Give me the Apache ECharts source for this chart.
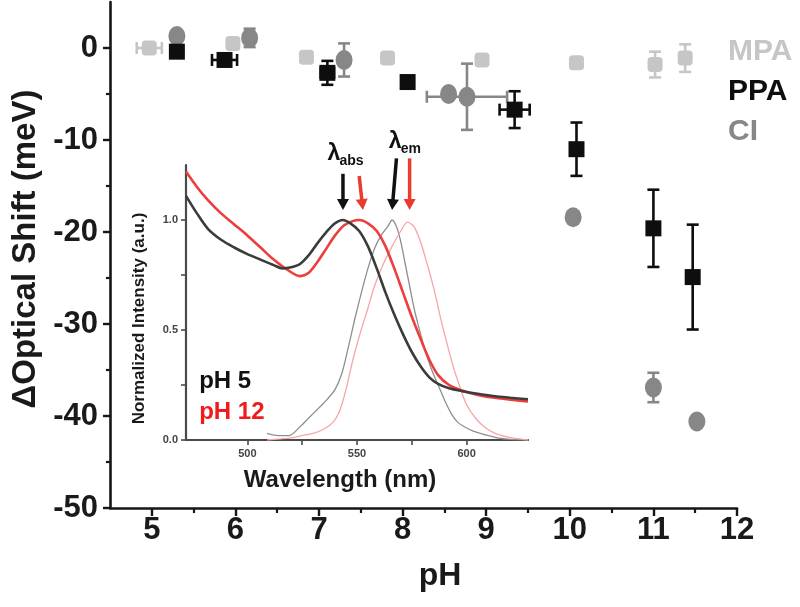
<!DOCTYPE html>
<html><head><meta charset="utf-8">
<script src="https://cdn.jsdelivr.net/npm/echarts@6/dist/echarts.min.js"></script>
<style>html,body{margin:0;padding:0;background:#fff}#c{width:800px;height:607px}</style>
</head><body><div id="c"></div>
<script>
// ---------- main plot data ----------
const pHTicks = [5, 6, 7, 8, 9, 10, 11, 12];
const pHMinorTicks = [5.5, 6.5, 7.5, 8.5, 9.5, 10.5, 11.5];
const shiftTicks = [-50, -40, -30, -20, -10, 0];
const shiftMinorTicks = [-45, -35, -25, -15, -5];

const mpaPH       = [4.97, 5.97, 6.85, 7.82, 8.95, 10.08, 11.02, 11.38];
const mpaShift    = [0.0, 0.5, -1.0, -1.1, -1.3, -1.6, -1.8, -1.1];
const mpaPHErr    = [0.15, 0, 0, 0, 0, 0, 0, 0];
const mpaShiftErr = [0, 0, 0, 0, 0, 0, 1.4, 1.5];

const ppaPH       = [5.3, 5.87, 7.1, 8.06, 9.34, 10.08, 11.0, 11.47];
const ppaShift    = [-0.4, -1.3, -2.7, -3.7, -6.7, -11.0, -19.6, -24.9];
const ppaPHErr    = [0, 0.15, 0.08, 0, 0.18, 0, 0, 0];
const ppaShiftErr = [0.6, 0.3, 1.3, 0, 2.0, 2.9, 4.2, 5.7];

const ciPH        = [5.3, 6.17, 7.3, 8.55, 8.77, 10.04, 11.0, 11.52];
const ciShift     = [1.3, 1.1, -1.3, -5.0, -5.3, -18.4, -36.9, -40.6];
const ciPHErr     = [0, 0, 0, 0, 0.48, 0, 0, 0];
const ciShiftErr  = [0, 1.0, 1.8, 0, 3.6, 0, 1.6, 0];

// ---------- inset data ----------
const wlTicks = [500, 550, 600];
const wlMinorTicks = [500, 525, 550, 575, 600];
const intTicks = [0, 0.5, 1.0];
const intMinorTicks = [0, 0.25, 0.5, 0.75, 1.0];

const abs5X = [472, 477, 482, 488, 494, 500, 506, 512, 516, 520, 524, 528, 532, 536, 540, 543.5, 547, 551, 555, 559, 563, 567, 571, 575, 579, 583, 587, 592, 598, 605, 612, 620, 628];
const abs5Y = [1.11, 1.03, 0.96, 0.91, 0.875, 0.845, 0.82, 0.795, 0.78, 0.785, 0.80, 0.84, 0.895, 0.945, 0.985, 1.0, 0.985, 0.95, 0.88, 0.78, 0.67, 0.57, 0.48, 0.40, 0.335, 0.285, 0.255, 0.235, 0.222, 0.21, 0.2, 0.192, 0.185];

const abs12X = [472, 477, 482, 488, 494, 500, 506, 512, 518, 524, 528, 532, 536, 540, 544, 548, 551, 555, 559, 563, 567, 571, 575, 579, 583, 587, 592, 598, 605, 612, 620, 628];
const abs12Y = [1.22, 1.15, 1.09, 1.03, 0.98, 0.93, 0.875, 0.82, 0.775, 0.745, 0.76, 0.81, 0.87, 0.93, 0.975, 0.995, 1.0, 0.985, 0.95, 0.88, 0.78, 0.67, 0.56, 0.46, 0.365, 0.295, 0.25, 0.225, 0.205, 0.193, 0.183, 0.175];

const em5X = [509, 514, 519, 524, 528, 532, 536, 540, 543, 546, 549, 552, 555, 558, 561, 564, 566, 568, 570, 572, 574, 576, 578, 581, 584, 587, 590, 593, 596, 599, 603, 608, 614, 620, 628];
const em5Y = [0.03, 0.02, 0.02, 0.06, 0.1, 0.14, 0.18, 0.23, 0.3, 0.42, 0.55, 0.67, 0.78, 0.87, 0.93, 0.97, 1.0, 0.97, 0.9, 0.8, 0.7, 0.6, 0.52, 0.41, 0.32, 0.25, 0.18, 0.12, 0.08, 0.06, 0.04, 0.025, 0.01, 0.003, 0.0];

const em12X = [509, 515, 520, 525, 530, 535, 539, 542, 545, 548, 551, 555, 558, 562, 566, 570, 573, 576, 579, 582, 585, 588, 591, 594, 597, 600, 604, 608, 613, 618, 623, 628];
const em12Y = [0.0, 0.005, 0.01, 0.02, 0.03, 0.05, 0.08, 0.13, 0.23, 0.36, 0.47, 0.6, 0.7, 0.8, 0.88, 0.95, 0.99, 0.97, 0.9, 0.8, 0.69, 0.56, 0.44, 0.33, 0.24, 0.16, 0.1, 0.06, 0.03, 0.015, 0.006, 0.0];

// arrows: start and tip in inset data units
const arrowStartX = [543.6, 551.0, 568.0, 574.0];
const arrowStartY = [1.21, 1.20, 1.28, 1.28];
const arrowTipX   = [543.6, 552.7, 566.0, 574.0];
const arrowTipY   = [1.045, 1.045, 1.045, 1.045];
const arrowRed    = [0, 1, 0, 1];

const lambdaX = [536.5, 564.5];
const lambdaY = [1.30, 1.355];
const lambdaSub = ['abs', 'em'];

const phLabelText = ['pH 5', 'pH 12'];
const phLabelX = [478, 478];
const phLabelY = [0.265, 0.125];

// ---------- build ----------
const FONT = 'Liberation Sans, Arial, sans-serif';
const C_MPA = '#c6c6c6', C_PPA = '#0e0e0e', C_CI = '#878787';
const C_RED = '#ea3b2e';

const zip = (...arrs) => arrs[0].map((_, i) => arrs.map(a => a[i]));

function errRender(color) {
  return function (params, api) {
    const x = api.value(0), y = api.value(1), xe = api.value(2), ye = api.value(3);
    const c = api.coord([x, y]);
    const st = { stroke: color, lineWidth: 2.6 };
    const ch = [];
    const cap = 6;
    if (ye > 0) {
      const t = api.coord([x, y + ye]), b = api.coord([x, y - ye]);
      ch.push({ type: 'line', shape: { x1: c[0], y1: t[1], x2: c[0], y2: b[1] }, style: st });
      ch.push({ type: 'line', shape: { x1: c[0] - cap, y1: t[1], x2: c[0] + cap, y2: t[1] }, style: st });
      ch.push({ type: 'line', shape: { x1: c[0] - cap, y1: b[1], x2: c[0] + cap, y2: b[1] }, style: st });
    }
    if (xe > 0) {
      const l = api.coord([x - xe, y]), r = api.coord([x + xe, y]);
      ch.push({ type: 'line', shape: { x1: l[0], y1: c[1], x2: r[0], y2: c[1] }, style: st });
      ch.push({ type: 'line', shape: { x1: l[0], y1: c[1] - cap, x2: l[0], y2: c[1] + cap }, style: st });
      ch.push({ type: 'line', shape: { x1: r[0], y1: c[1] - cap, x2: r[0], y2: c[1] + cap }, style: st });
    }
    return { type: 'group', children: ch };
  };
}

function arrowRender(params, api) {
  const p1 = api.coord([api.value(0), api.value(1)]);
  const p2 = api.coord([api.value(2), api.value(3)]);
  const color = api.value(4) ? C_RED : '#111';
  const dx = p2[0] - p1[0], dy = p2[1] - p1[1];
  const len = Math.hypot(dx, dy), ux = dx / len, uy = dy / len;
  const hl = 11, hw = 6;
  const bx = p2[0] - ux * hl, by = p2[1] - uy * hl;
  return { type: 'group', children: [
    { type: 'line', shape: { x1: p1[0], y1: p1[1], x2: bx + ux * 2, y2: by + uy * 2 }, style: { stroke: color, lineWidth: 3.5 } },
    { type: 'polygon', shape: { points: [[p2[0], p2[1]], [bx - uy * hw, by + ux * hw], [bx + uy * hw, by - ux * hw]] }, style: { fill: color } }
  ] };
}

function lambdaRender(params, api) {
  const p = api.coord([api.value(0), api.value(1)]);
  const sub = lambdaSub[params.dataIndex];
  return { type: 'group', children: [
    { type: 'text', x: p[0], y: p[1], style: { text: 'λ', fontSize: 23, fontWeight: 'bold', fontFamily: FONT, fill: '#111', verticalAlign: 'middle', align: 'left' } },
    { type: 'text', x: p[0] + 12, y: p[1] + 7, style: { text: sub, fontSize: 14, fontWeight: 'bold', fontFamily: FONT, fill: '#111', verticalAlign: 'middle', align: 'left' } }
  ] };
}

function phTextRender(params, api) {
  const p = api.coord([api.value(0), api.value(1)]);
  const i = params.dataIndex;
  return { type: 'text', x: p[0], y: p[1], style: { text: phLabelText[i], fontSize: 24, fontWeight: 'bold', fontFamily: FONT, fill: i === 0 ? '#111' : '#f01c1c', verticalAlign: 'middle', align: 'left' } };
}

const mainAxisLine = { show: true, onZero: false, lineStyle: { color: '#161616', width: 2.6 } };
const insetAxisLine = { show: true, onZero: false, lineStyle: { color: '#4a4a4a', width: 2.2 } };

const option = {
  backgroundColor: '#fff',
  animation: false,
  grid: [
    { left: 110, right: 63, top: 2, bottom: 99, outerBoundsMode: 'none' },
    { left: 186, right: 272, top: 165, bottom: 167, outerBoundsMode: 'none' }
  ],
  legend: {
    orient: 'vertical', left: 718, top: 32, itemWidth: 0, itemHeight: 0, itemGap: 10,
    selectedMode: false,
    textStyle: { fontSize: 30, fontWeight: 'bold', fontFamily: FONT },
    data: [
      { name: 'MPA', textStyle: { color: C_MPA } },
      { name: 'PPA', textStyle: { color: C_PPA } },
      { name: 'CI', textStyle: { color: C_CI } }
    ]
  },
  xAxis: [
    { type: 'value', gridIndex: 0, position: 'bottom', min: 4.5, max: 12,
      axisLine: mainAxisLine, splitLine: { show: false },
      axisTick: { show: true, length: 8, customValues: pHTicks, lineStyle: { color: '#161616', width: 2.4 } },
      axisLabel: { customValues: pHTicks, margin: 7, fontSize: 31, fontWeight: 'bold', fontFamily: FONT, color: '#1a1a1a' },
      name: 'pH', nameLocation: 'middle', nameGap: 52,
      nameTextStyle: { fontSize: 32, fontWeight: 'bold', fontFamily: FONT, color: '#1a1a1a', padding: [0, 0, 0, 33] } },
    { type: 'value', gridIndex: 0, position: 'bottom', min: 4.5, max: 12,
      axisLine: { show: false, onZero: false }, splitLine: { show: false }, axisLabel: { show: false },
      axisTick: { show: true, length: 5, customValues: pHMinorTicks, lineStyle: { color: '#161616', width: 2.2 } } },
    { type: 'value', gridIndex: 1, position: 'bottom', min: 472, max: 628,
      axisLine: insetAxisLine, splitLine: { show: false },
      axisTick: { show: true, length: 5, customValues: wlMinorTicks, lineStyle: { color: '#4a4a4a', width: 1.6 } },
      axisLabel: { customValues: wlTicks, margin: 8, fontSize: 11, fontWeight: 'bold', fontFamily: FONT, color: '#444' },
      name: 'Wavelength (nm)', nameLocation: 'middle', nameGap: 28,
      nameTextStyle: { fontSize: 24, fontWeight: 'bold', fontFamily: FONT, color: '#1a1a1a', padding: [0, 34, 0, 0] } }
  ],
  yAxis: [
    { type: 'value', gridIndex: 0, position: 'left', min: -50, max: 5,
      axisLine: mainAxisLine, splitLine: { show: false },
      axisTick: { show: true, length: 7, customValues: shiftTicks, lineStyle: { color: '#161616', width: 2.4 } },
      axisLabel: { customValues: shiftTicks, margin: 12, fontSize: 31, fontWeight: 'bold', fontFamily: FONT, color: '#1a1a1a' },
      name: 'ΔOptical Shift (meV)', nameLocation: 'middle', nameGap: 66,
      nameTextStyle: { fontSize: 33, fontWeight: 'bold', fontFamily: FONT, color: '#1a1a1a', padding: [0, 0, 0, 12] } },
    { type: 'value', gridIndex: 0, position: 'left', min: -50, max: 5,
      axisLine: { show: false, onZero: false }, splitLine: { show: false }, axisLabel: { show: false },
      axisTick: { show: true, length: 4, customValues: shiftMinorTicks, lineStyle: { color: '#161616', width: 2.2 } } },
    { type: 'value', gridIndex: 1, position: 'left', min: 0, max: 1.25,
      axisLine: insetAxisLine, splitLine: { show: false },
      axisTick: { show: true, length: 5, customValues: intMinorTicks, lineStyle: { color: '#4a4a4a', width: 1.6 } },
      axisLabel: { customValues: intTicks, margin: 8, fontSize: 11, fontWeight: 'bold', fontFamily: FONT, color: '#444',
        formatter: v => v.toFixed(1) },
      name: 'Normalized Intensity (a.u.)', nameLocation: 'middle', nameGap: 38,
      nameTextStyle: { fontSize: 17, fontWeight: 'bold', fontFamily: FONT, color: '#1a1a1a', padding: [0, 32, 0, 0] } }
  ],
  series: [
    // inset curves
    { type: 'line', xAxisIndex: 2, yAxisIndex: 2, data: zip(em5X, em5Y), smooth: 0.3, showSymbol: false,
      lineStyle: { color: '#8f8f8f', width: 1.3 }, z: 3 },
    { type: 'line', xAxisIndex: 2, yAxisIndex: 2, data: zip(em12X, em12Y), smooth: 0.3, showSymbol: false,
      lineStyle: { color: '#f6a4a8', width: 1.3 }, z: 3 },
    { type: 'line', xAxisIndex: 2, yAxisIndex: 2, data: zip(abs12X, abs12Y), smooth: 0.3, showSymbol: false,
      lineStyle: { color: '#ee3d3d', width: 2.6 }, z: 4 },
    { type: 'line', xAxisIndex: 2, yAxisIndex: 2, data: zip(abs5X, abs5Y), smooth: 0.3, showSymbol: false,
      lineStyle: { color: '#3a3d3a', width: 2.6 }, z: 4 },
    { type: 'custom', xAxisIndex: 2, yAxisIndex: 2, clip: false, renderItem: arrowRender,
      data: zip(arrowStartX, arrowStartY, arrowTipX, arrowTipY, arrowRed), z: 5 },
    { type: 'custom', xAxisIndex: 2, yAxisIndex: 2, clip: false, renderItem: lambdaRender,
      data: zip(lambdaX, lambdaY), z: 5 },
    { type: 'custom', xAxisIndex: 2, yAxisIndex: 2, clip: false, renderItem: phTextRender,
      data: zip(phLabelX, phLabelY), z: 5 },
    // main error bars
    { type: 'custom', xAxisIndex: 0, yAxisIndex: 0, renderItem: errRender(C_MPA), clip: false,
      data: zip(mpaPH, mpaShift, mpaPHErr, mpaShiftErr), z: 2 },
    { type: 'custom', xAxisIndex: 0, yAxisIndex: 0, renderItem: errRender(C_CI), clip: false,
      data: zip(ciPH, ciShift, ciPHErr, ciShiftErr), z: 2 },
    { type: 'custom', xAxisIndex: 0, yAxisIndex: 0, renderItem: errRender(C_PPA), clip: false,
      data: zip(ppaPH, ppaShift, ppaPHErr, ppaShiftErr), z: 2 },
    // main points
    { name: 'MPA', type: 'scatter', xAxisIndex: 0, yAxisIndex: 0, symbol: 'roundRect', symbolSize: 15,
      itemStyle: { color: C_MPA, opacity: 1 }, data: zip(mpaPH, mpaShift), z: 3 },
    { name: 'CI', type: 'scatter', xAxisIndex: 0, yAxisIndex: 0, symbol: 'circle', symbolSize: [17, 20],
      itemStyle: { color: C_CI, opacity: 1 }, data: zip(ciPH, ciShift), z: 3 },
    { name: 'PPA', type: 'scatter', xAxisIndex: 0, yAxisIndex: 0, symbol: 'rect', symbolSize: 16,
      itemStyle: { color: C_PPA, opacity: 1 }, data: zip(ppaPH, ppaShift), z: 3 }
  ]
};

const chart = echarts.init(document.getElementById('c'));
chart.setOption(option);
</script>
</body></html>
